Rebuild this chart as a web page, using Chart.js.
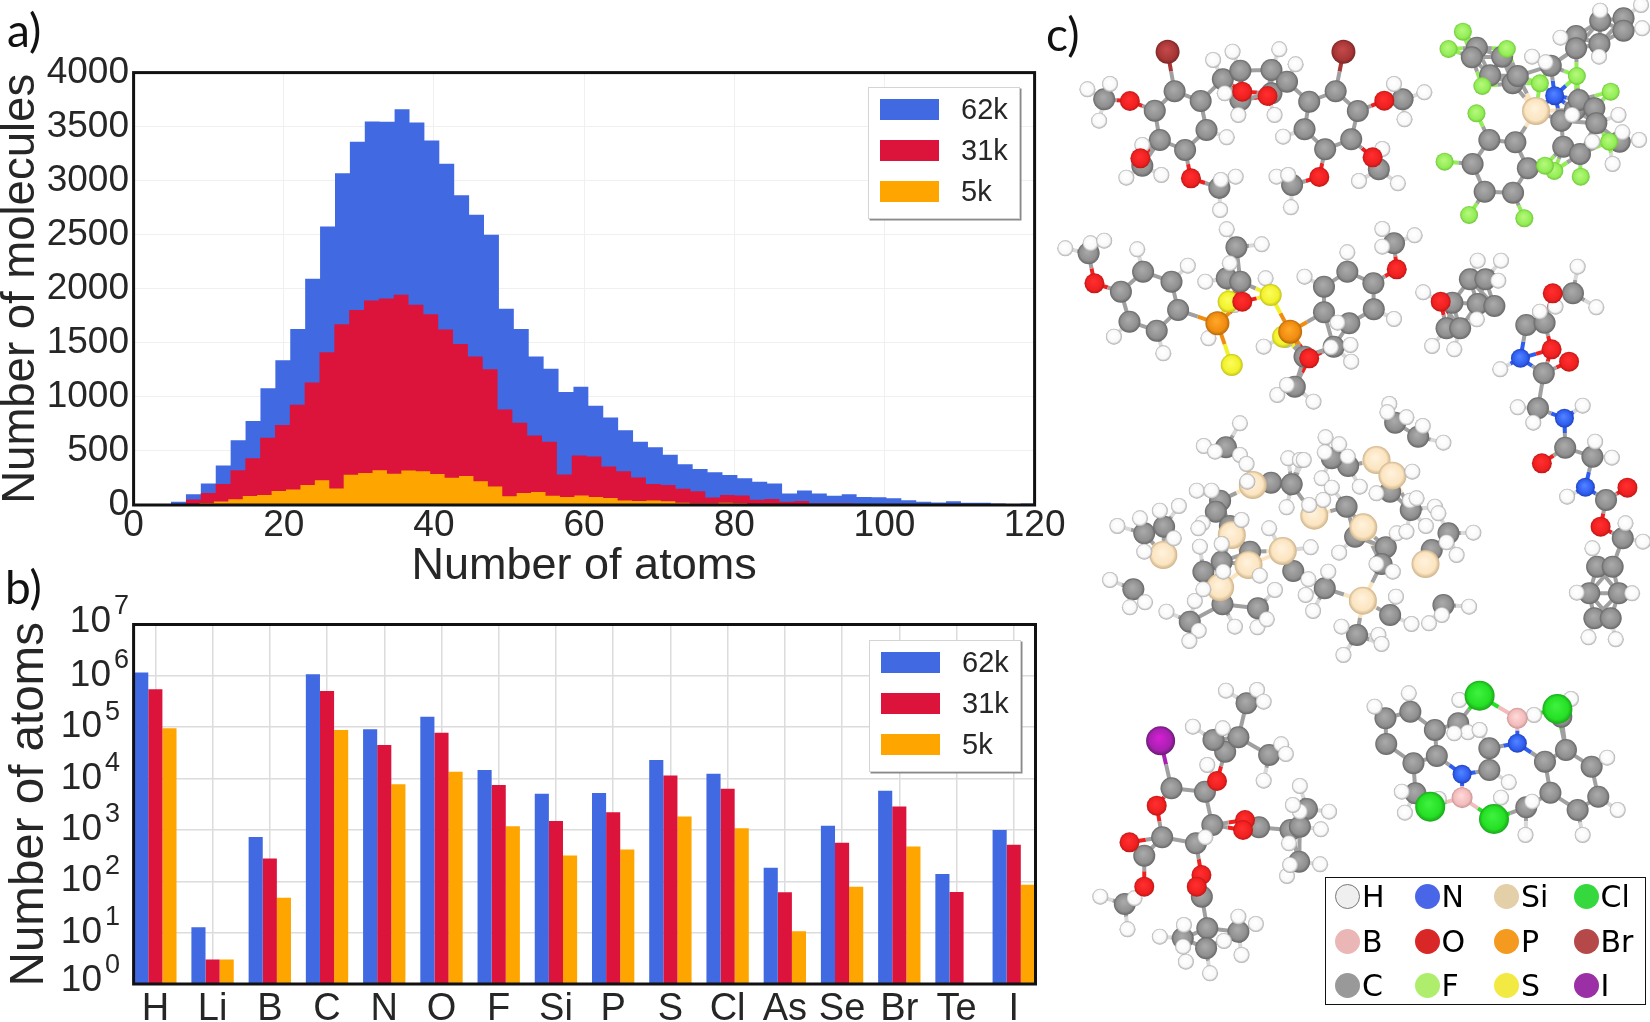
<!DOCTYPE html>
<html>
<head>
<meta charset="utf-8">
<title>Molecule dataset statistics</title>
<script src="https://cdn.jsdelivr.net/npm/chart.js@4/dist/chart.umd.min.js"></script>
<style>
  html, body { margin: 0; background: #fff; }
  #page { position: relative; width: 1650px; height: 1022px; overflow: hidden; font-family: "Liberation Sans", sans-serif; color: #262626; }
  canvas { position: absolute; }
  .letter { position: absolute; font-family: Lato, sans-serif; font-size: 46px; line-height: 46px; color: #111; }
  .legend { position: absolute; background: #fff; border: 1px solid #d4d4d4; box-shadow: 1.5px 1.5px 0 #8a8a8a; box-sizing: border-box; width: 152px; height: 132px; }
  .legend i { position: absolute; left: 11px; width: 59px; height: 21px; }
  .legend span { position: absolute; left: 92px; font-size: 29px; line-height: 30px; }
  #atomKey { position: absolute; left: 1325px; top: 877px; width: 321px; height: 128px; border: 1.5px solid #111; box-sizing: border-box; font-family: "DejaVu Sans", sans-serif; color: #000; }
  #atomKey i { position: absolute; width: 25px; height: 25px; border-radius: 50%; }
  #atomKey span { position: absolute; font-size: 30px; line-height: 34px; }
</style>
</head>
<body>
<div id="page">
  <canvas id="histChart" width="1080" height="590" style="left:0;top:0"></canvas>
  <canvas id="barChart" width="1080" height="432" style="left:0;top:590px"></canvas>
  <canvas id="moleculeChart" width="610" height="1022" style="left:1040px;top:0"></canvas>
  <div class="letter" style="left:7px;top:7px">a)</div>
  <div class="letter" style="left:5px;top:564px">b)</div>
  <div class="letter" style="left:1046px;top:11px">c)</div>
  <div class="legend" id="histLegend" style="left:868px;top:87px"></div>
  <div class="legend" id="barLegend" style="left:869px;top:640px"></div>
  <div id="atomKey"></div>
</div>
<script>
const seriesNames = ['62k', '31k', '5k'];
const seriesColors = ['#4169e1', '#dc143c', '#ffa500'];

// panel a: histogram heights, one value per bin
const histStart62k = 3.0, histWidth62k = 1.985;
const hist62k = [10, 30, 100, 200, 366, 600, 777, 1080, 1338, 1627, 2092, 2576, 3070, 3360, 3548, 3545, 3660, 3538, 3373, 3156, 2866, 2685, 2500, 1815, 1627, 1373, 1261, 1045, 1093, 918, 809, 692, 586, 535, 466, 377, 332, 302, 278, 247, 216, 199, 106, 134, 106, 86, 99, 75, 72, 62, 45, 31, 24, 34, 20, 20, 14, 3, 14];
const histStart31k = 5.0, histWidth31k = 1.976;
const hist31k = [10, 51, 111, 194, 322, 433, 621, 739, 927, 1134, 1414, 1672, 1803, 1892, 1911, 1946, 1853, 1764, 1624, 1490, 1373, 1255, 884, 761, 644, 586, 281, 459, 449, 356, 312, 254, 195, 185, 151, 127, 69, 93, 89, 48, 55, 31, 38, 14, 14, 14, 7, 10];
const histStart5k = 6.86, histWidth5k = 1.92;
const hist5k = [5, 16, 32, 54, 83, 92, 130, 143, 185, 229, 153, 280, 296, 322, 290, 318, 312, 287, 252, 268, 220, 172, 82, 110, 120, 86, 75, 89, 75, 65, 41, 38, 41, 34, 20, 14, 14, 20, 17, 10, 10, 3, 3];

// panel b: atom counts per element
const elements = ['H', 'Li', 'B', 'C', 'N', 'O', 'F', 'Si', 'P', 'S', 'Cl', 'As', 'Se', 'Br', 'Te', 'I'];
const atoms62k = [1160000, 12.8, 732, 1080000, 91000, 160000, 14700, 5090, 5240, 22900, 12400, 184, 1200, 5820, 138, 1000];
const atoms31k = [550000, 3, 277, 510000, 45000, 78000, 7500, 1500, 2210, 11500, 6360, 61, 561, 2845, 62, 513];
const atoms5k = [95000, 3, 48, 88000, 7740, 13600, 1180, 318, 417, 1820, 1080, 10.7, 78, 476, null, 86];
const logExponents = [0, 1, 2, 3, 4, 5, 6, 7];

// panel c: atoms, in panel units
const hAtoms = [[122,268],[180,252],[152,362],[445,180],[495,155],[615,148],[657,193],[480,412],[625,410],[263,435],[222,533],[312,525],[503,530],[465,540],[463,630],[608,530],[645,622],[638,525],[820,543],[920,550],[880,447],[988,277],[910,252],[937,358],[510,345],[603,345],[475,280],
  [1265,170],[1300,187],[1338,113],[1440,32],[1545,15],[1548,85],[1437,170],[1368,345],[1487,345],[1497,397],[1420,425],[1472,492],[1540,420],
  [65,745],[130,730],[165,722],[250,748],[380,797],[190,1010],[317,1060],[480,688],[570,733],[488,790],[425,845],[580,835],[500,915],[433,1015],[680,830],[790,757],[880,687],[963,706],[880,740],[910,957],[765,968],[798,1035],[800,1085],[575,1040],[632,1020],[748,1042],[610,1185],[635,1155],[703,1205],
  [985,877],[1125,782],[1185,782],[1178,842],[1123,958],[1008,1038],[1065,1048],[1382,800],[1430,922],[1325,920],[1285,935],[1183,1108],[1228,1222],[1268,1268],[1395,1217],[1427,1325],[1470,1373],[1355,1490],[1505,1570],[1550,1625],[1420,1645],[1380,1778],[1522,1780],[1410,1912],[1480,1918],
  [514,1270],[421,1338],[514,1365],[450,1355],[531,1392],[533,1445],[638,1375],[668,1380],[634,1522],[403,1472],[441,1472],[418,1570],[407,1585],[518,1560],[357,1518],[308,1532],[257,1555],[199,1578],[344,1615],[268,1655],[589,1585],[411,1640],[467,1632],[565,1727],[471,1715],[180,1740],
  [231,1822],[270,1807],[325,1835],[398,1803],[408,1892],[384,1923],[501,1880],[559,1882],[583,1858],[604,1770],[420,1768],
  [898,1212],[893,1237],[942,1252],[984,1278],[1037,1328],[734,1312],[769,1333],[732,1357],[791,1370],[724,1435],[750,1463],[822,1460],[678,1380],[728,1500],[692,1515],[957,1415],[865,1480],[951,1502],[968,1495],[1015,1520],[1024,1540],[917,1600],[942,1595],[992,1578],[1114,1598],[1045,1627],[1071,1665],[769,1658],[696,1642],[865,1692],[907,1715],[741,1715],[690,1738],
  [683,1785],[702,1833],[915,1790],[955,1872],[1000,1870],[1033,1845],[1103,1820],[775,1880],[870,1905],[878,1932],[780,1965],
  [478,2072],[558,2070],[575,2105],[393,2180],[470,2185],[620,2233],[632,2262],[430,2295],[575,2342],[668,2358],[668,2435],[650,2415],[743,2435],[722,2488],[640,2530],[720,2593],[635,2628],[643,2595],[425,2512],[155,2690],[243,2695],[225,2788],[308,2810],[370,2775],[510,2750],[555,2772],[473,2823],[518,2865],[375,2885],[368,2840],[437,2920],
  [948,2080],[860,2120],[1078,2100],[1100,2197],[1130,2190],[1065,2200],[1205,2347],[930,2375],[938,2438],[1025,2397],[1185,2393],[1265,2405],[1248,2505],[1395,2505],[1485,2430],[1458,2273],[1365,2097],[1270,2145]];
const cAtoms = [[346,274],[413,303],[295,332],[428,390],[308,420],[373,450],[470,238],[515,212],[595,210],[595,280],[635,245],[692,305],[760,274],[817,333],[680,388],[800,418],[733,448],[165,298],[263,497],[461,563],[932,298],[871,508],[648,555],[515,300],
  [1123,143],[1110,172],[1188,170],[1157,226],[1215,250],[1228,228],[1155,420],[1222,427],[1112,492],[1254,505],[1143,575],[1216,578],[1313,197],[1378,108],[1440,62],[1500,55],[1500,92],[1438,132],[1378,145],[1340,362],[1375,330],[1385,300],[1425,325],[1430,370],[1490,425],[1345,440],[1388,462],
  [125,760],[208,875],[265,815],[338,845],[355,930],[300,992],[230,965],[505,742],[480,835],[515,845],[730,860],[790,815],[857,850],[858,928],[795,970],[730,937],[910,730],[680,1070],[755,1040],[655,1160],
  [1105,838],[1145,838],[1060,908],[1125,912],[1168,918],[1045,985],[1080,985],[1250,975],[1297,968],[1370,880],[1295,1120],[1280,1225],[1350,1343],[1420,1370],[1455,1500],[1498,1615],[1432,1700],[1472,1700],[1412,1780],[1488,1780],[1425,1855],[1467,1855],
  [478,1342],[594,1448],[647,1453],[463,1502],[452,1535],[488,1578],[268,1600],[319,1580],[540,1655],[467,1685],[420,1715],[651,1713],[240,1768],[385,1865],[469,1813],[560,1825],[913,1268],[972,1310],[792,1398],[750,1375],[900,1475],[953,1530],[788,1520],[810,1610],[889,1642],[878,1692],[1050,1600],[1007,1650],[732,1765],[900,1845],[815,1905],[1037,1815],
  [338,2365],[424,2375],[443,2475],[401,2530],[314,2512],[268,2567],[476,2255],[446,2220],[510,2212],[531,2110],[589,2265],[563,2482],[644,2490],[686,2427],[668,2480],[666,2585],[218,2712],[416,2690],[430,2785],[367,2815],[510,2795],[427,2845],
  [888,2155],[952,2135],[890,2232],[1015,2190],[1020,2268],[960,2290],[1075,2170],[965,2380],[1155,2245],[1155,2310],[1298,2285],[1352,2250],[1418,2300],[1312,2378],[1435,2390],[1382,2430],[1250,2422],[1340,2150]];
const oAtoms = [[231,303],[520,275],[585,288],[885,302],[258,475],[388,535],[718,531],[855,472],[140,850],[917,808],[520,905],[692,1075],[1030,905],[1318,880],[1315,1048],[1360,1085],[1290,1390],[1510,1463],[1441,1580],[300,2417],[455,2343],[230,2527],[268,2660],[527,2460],[522,2490],[415,2625],[403,2660]];
const nAtoms = [[1323,287],[1235,1075],[1348,1255],[1402,1462],[1227,2230],[1085,2323]];
const fAtoms = [[1087,95],[1050,147],[1200,147],[1137,258],[1285,250],[1122,340],[1380,228],[1467,275],[1040,485],[1103,645],[1245,655],[1322,513],[1298,497],[1390,530],[1463,425]];
const siAtoms = [[1275,333],[547,1455],[493,1605],[317,1665],[536,1695],[624,1653],[463,1762],[865,1380],[906,1427],[705,1547],[831,1582],[991,1692],[830,1802]];
const pAtoms = [[456,970],[643,995]];
const sAtoms = [[593,885],[485,905],[493,1095],[625,1010]];
const clAtoms = [[1130,2087],[1330,2127],[1003,2420],[1167,2457]];
const brAtoms = [[328,155],[780,155]];
const bAtoms = [[1227,2155],[1085,2393]];
const iAtoms = [[310,2222]];

const atomKeyRows = [['H', 'N', 'Si', 'Cl'], ['B', 'O', 'P', 'Br'], ['C', 'F', 'S', 'I']];
const keyColors = { H: '#efefef', N: '#4a66e8', Si: '#e3cfa8', Cl: '#35d93d', B: '#ebb6b6', O: '#d92626', P: '#f39a1f', Br: '#b54848', C: '#999999', F: '#aeee6c', S: '#f2ea42', I: '#9b2fa5' };

const inkColor = '#262626';

// black box round the plot area, on top of the marks
const framePlugin = {
  id: 'frame',
  afterDraw(chart) {
    const { ctx, chartArea: a } = chart;
    ctx.save();
    ctx.strokeStyle = '#111';
    ctx.lineWidth = 3;
    ctx.strokeRect(a.left, a.top, a.right - a.left, a.bottom - a.top);
    ctx.restore();
  }
};

// 10 with a raised exponent, placed with the log scale
const logLabelPlugin = {
  id: 'logLabels',
  afterDraw(chart) {
    const { ctx, scales } = chart;
    ctx.save();
    ctx.fillStyle = inkColor;
    ctx.textBaseline = 'middle';
    logExponents.forEach(e => {
      const y = scales.y.getPixelForValue(Math.pow(10, e));
      const shift = e >= 6 ? 9 : 0;
      const lift = e === 0 || e === 7 ? 3 : 0;
      ctx.font = '37px "Liberation Sans"';
      ctx.textAlign = 'right';
      ctx.fillText('10', 102 + shift, y - lift);
      ctx.font = '27px "Liberation Sans"';
      ctx.textAlign = 'left';
      ctx.fillText(String(e), 105 + shift, y - lift - 15);
    });
    ctx.restore();
  }
};

function noScalePadding(scale) {
  scale.paddingLeft = scale.paddingRight = scale.paddingTop = scale.paddingBottom = 0;
}

function histPoints(start, width, values) {
  const pts = values.map((v, i) => ({ x: start + i * width, y: v }));
  pts.push({ x: start + values.length * width, y: 0 });
  return pts;
}

function histDataset(name, color, order, start, width, values) {
  return {
    label: name,
    data: histPoints(start, width, values),
    stepped: true,
    fill: 'origin',
    backgroundColor: color,
    borderColor: color,
    borderWidth: 0,
    pointRadius: 0,
    order: order
  };
}

new Chart(document.getElementById('histChart'), {
  type: 'line',
  data: {
    datasets: [
      histDataset(seriesNames[0], seriesColors[0], 3, histStart62k, histWidth62k, hist62k),
      histDataset(seriesNames[1], seriesColors[1], 2, histStart31k, histWidth31k, hist31k),
      histDataset(seriesNames[2], seriesColors[2], 1, histStart5k, histWidth5k, hist5k)
    ]
  },
  options: {
    responsive: false,
    animation: false,
    layout: { padding: { top: 72.6, right: 45.4, left: 0, bottom: 0 } },
    plugins: { legend: { display: false }, tooltip: { enabled: false } },
    scales: {
      x: {
        type: 'linear', min: 0, max: 120,
        afterFit(s) { s.height = 85; noScalePadding(s); },
        grid: { color: '#f0f0f0', lineWidth: 1, drawTicks: false },
        border: { display: false },
        ticks: { stepSize: 20, padding: 2, maxRotation: 0, color: inkColor, font: { family: 'Liberation Sans', size: 37, lineHeight: 1 } },
        title: { display: true, text: 'Number of atoms', color: inkColor, padding: { top: 0, bottom: 0.5 }, font: { family: 'Liberation Sans', size: 45, lineHeight: 1 } }
      },
      y: {
        min: 0, max: 4000,
        afterFit(s) { s.width = 133.6; noScalePadding(s); },
        grid: { color: '#f0f0f0', lineWidth: 1, drawTicks: false },
        border: { display: false },
        ticks: { stepSize: 500, padding: 4.6, color: inkColor, font: { family: 'Liberation Sans', size: 37, lineHeight: 1 }, callback: v => String(v) },
        title: { display: true, text: 'Number of molecules', color: inkColor, padding: { top: 3, bottom: 0 }, font: { family: 'Liberation Sans', size: 45.5, lineHeight: 0.8 } }
      }
    }
  },
  plugins: [framePlugin]
});

function barDataset(name, color, values) {
  return {
    label: name,
    data: values.map((v, i) => ({ x: i, y: v })),
    backgroundColor: color,
    barPercentage: 1,
    categoryPercentage: 0.74
  };
}

new Chart(document.getElementById('barChart'), {
  type: 'bar',
  data: {
    datasets: [
      barDataset(seriesNames[0], seriesColors[0], atoms62k),
      barDataset(seriesNames[1], seriesColors[1], atoms31k),
      barDataset(seriesNames[2], seriesColors[2], atoms5k)
    ]
  },
  options: {
    responsive: false,
    animation: false,
    layout: { padding: { top: 34.5, right: 44.5, left: 0, bottom: 0 } },
    plugins: { legend: { display: false }, tooltip: { enabled: false } },
    scales: {
      x: {
        type: 'linear', min: -0.38, max: 15.38, offset: false,
        afterFit(s) { s.height = 38; noScalePadding(s); },
        grid: { color: '#dcdcdc', lineWidth: 1.5, drawTicks: false, offset: false },
        border: { display: false },
        ticks: {
          stepSize: 1, includeBounds: false, autoSkip: false, maxRotation: 0, padding: 7, color: inkColor,
          font: { family: 'Liberation Sans', size: 38, lineHeight: 1 },
          callback: v => elements[v]
        }
      },
      y: {
        type: 'logarithmic', min: 1, max: 10000000,
        afterFit(s) { s.width = 133.6; noScalePadding(s); },
        afterBuildTicks(s) { s.ticks = logExponents.map(e => ({ value: Math.pow(10, e) })); },
        grid: { color: '#dcdcdc', lineWidth: 1.5, drawTicks: false },
        border: { display: false },
        ticks: { display: false },
        title: { display: true, text: 'Number of atoms', color: inkColor, padding: { top: 6.5, bottom: 0 }, font: { family: 'Liberation Sans', size: 47.5, lineHeight: 1 } }
      }
    }
  },
  plugins: [framePlugin, logLabelPlugin]
});

// panel c
const panelPerPxX = 1568 / 610, panelPerPxY = 3;
const atomStyles = {
  H: { list: hAtoms, r: 8, light: '#ffffff', base: '#f8f8f8', dark: '#a0a0a0', reach: 9, order: 4 },
  C: { list: cAtoms, r: 11, light: '#a8a8a8', base: '#8f8f8f', dark: '#626262', reach: 18.5, order: 5 },
  O: { list: oAtoms, r: 10, light: '#ff2e2e', base: '#f02020', dark: '#b81616', reach: 16.5, order: 3 },
  N: { list: nAtoms, r: 9.5, light: '#4f80ff', base: '#2f5df0', dark: '#1f3fb0', reach: 16, order: 3 },
  F: { list: fAtoms, r: 9, light: '#b4f77a', base: '#92ee55', dark: '#6fbf3a', reach: 16, order: 3 },
  Si: { list: siAtoms, r: 14, light: '#fff1da', base: '#fbe4c0', dark: '#c8ae85', reach: 23, order: 4.5 },
  P: { list: pAtoms, r: 12, light: '#ffa526', base: '#f08c10', dark: '#b0650a', reach: 24, order: 3 },
  S: { list: sAtoms, r: 11, light: '#fbfb5a', base: '#f2f22a', dark: '#bcbc20', reach: 21, order: 3 },
  Cl: { list: clAtoms, r: 15, light: '#3df03d', base: '#25e025', dark: '#1aa01a', reach: 27, order: 3 },
  Br: { list: brAtoms, r: 12, light: '#c24848', base: '#a83636', dark: '#762525', reach: 24, order: 3 },
  B: { list: bAtoms, r: 10.5, light: '#ffd6d6', base: '#f2bcbc', dark: '#c59090', reach: 18, order: 3 },
  I: { list: iAtoms, r: 14.5, light: '#d020d0', base: '#a820b0', dark: '#651a70', reach: 31, order: 3 }
};
const terminalAtoms = ['F', 'Cl', 'Br', 'I'];

function buildBondSegments() {
  const segments = {};
  const all = [];
  Object.keys(atomStyles).forEach(el => {
    segments[el] = [];
    atomStyles[el].list.forEach(a => all.push({ el, x: a[0], y: a[1] }));
  });
  const dist = (a, b) => Math.hypot((a.x - b.x) / panelPerPxX, (a.y - b.y) / panelPerPxY);
  const addBond = (a, b) => {
    const mid = { x: (a.x + b.x) / 2, y: (a.y + b.y) / 2 };
    segments[a.el].push({ x: a.x, y: a.y }, mid, { x: NaN, y: NaN });
    segments[b.el].push({ x: b.x, y: b.y }, mid, { x: NaN, y: NaN });
  };
  const heavy = all.filter(a => a.el !== 'H');
  heavy.forEach((a, i) => {
    heavy.slice(i + 1).forEach(b => {
      if (terminalAtoms.includes(a.el) && terminalAtoms.includes(b.el)) return;
      if (a.el === 'O' && b.el === 'O') return;
      if (dist(a, b) < atomStyles[a.el].reach + atomStyles[b.el].reach) addBond(a, b);
    });
  });
  all.filter(a => a.el === 'H').forEach(h => {
    let nearest = heavy[0];
    heavy.forEach(a => { if (dist(h, a) < dist(h, nearest)) nearest = a; });
    if (dist(h, nearest) < 30) addBond(h, nearest);
  });
  return segments;
}

function sphereFill(style) {
  return function (ctx) {
    const chart = ctx.chart;
    if (!ctx.raw || !chart.scales.x) return style.base;
    const px = chart.scales.x.getPixelForValue(ctx.raw.x);
    const py = chart.scales.y.getPixelForValue(ctx.raw.y);
    if (!isFinite(px) || !isFinite(py)) return style.base;
    const r = style.r;
    const g = chart.ctx.createRadialGradient(px - r * 0.1, py - r * 0.2, r * 0.1, px, py, r * 1.03);
    g.addColorStop(0, style.light);
    g.addColorStop(0.7, style.base);
    g.addColorStop(1, style.dark);
    return g;
  };
}

const bondSegments = buildBondSegments();
const moleculeDatasets = [];
Object.keys(atomStyles).forEach(el => {
  const style = atomStyles[el];
  moleculeDatasets.push({
    label: el + ' bonds',
    data: bondSegments[el],
    showLine: true,
    spanGaps: false,
    borderColor: el === 'C' ? '#a0a0a0' : el === 'H' ? '#d9d9d9' : style.base,
    borderWidth: 4,
    pointRadius: 0,
    clip: false,
    order: 20
  });
  moleculeDatasets.push({
    label: el,
    data: style.list.map(a => ({ x: a[0], y: a[1] })),
    pointRadius: style.r,
    pointBorderWidth: 0,
    pointBackgroundColor: sphereFill(style),
    clip: false,
    order: style.order
  });
});

new Chart(document.getElementById('moleculeChart'), {
  type: 'scatter',
  data: { datasets: moleculeDatasets },
  options: {
    responsive: false,
    animation: false,
    layout: { padding: 0, autoPadding: false },
    plugins: { legend: { display: false }, tooltip: { enabled: false } },
    scales: {
      x: { type: 'linear', display: false, min: 0, max: 1568 },
      y: { type: 'linear', display: false, min: 0, max: 3066, reverse: true }
    }
  }
});

// html legends
function fillLegend(id) {
  const box = document.getElementById(id);
  seriesNames.forEach((name, i) => {
    const top = 11 + i * 41.2;
    box.innerHTML += '<i style="top:' + top + 'px;background:' + seriesColors[i] + '"></i>' +
      '<span style="top:' + (top - 5) + 'px">' + name + '</span>';
  });
}
fillLegend('histLegend');
fillLegend('barLegend');

const atomKey = document.getElementById('atomKey');
atomKeyRows.forEach((row, r) => {
  row.forEach((el, c) => {
    const left = 9 + c * 79.5;
    const top = 6 + r * 44.5;
    const edge = el === 'H' ? 'border:1px solid #777;box-sizing:border-box;' : '';
    atomKey.innerHTML += '<i style="left:' + left + 'px;top:' + top + 'px;background:' + keyColors[el] + ';' + edge + '"></i>' +
      '<span style="left:' + (left + 27) + 'px;top:' + (top - 4) + 'px">' + el + '</span>';
  });
});
</script>
</body>
</html>
